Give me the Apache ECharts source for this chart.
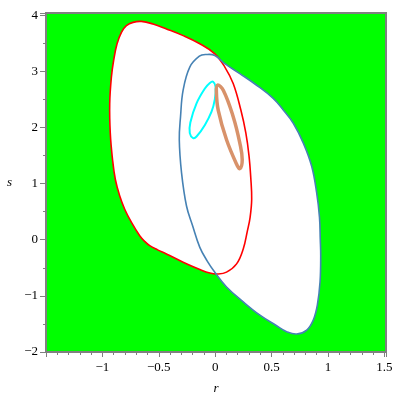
<!DOCTYPE html>
<html>
<head>
<meta charset="utf-8">
<script src="https://cdn.jsdelivr.net/npm/echarts@6/dist/echarts.min.js"></script>
<style>html,body{margin:0;padding:0;background:#fff}#c{width:400px;height:400px}</style>
</head>
<body>
<div id="c"></div>
<script>
// Curves, as [r, s] points (closed loops)
const redCurve = [[-0.654,3.89],[-0.551,3.844],[-0.432,3.756],[-0.284,3.637],[-0.136,3.491],[-0.003,3.313],[0.086,3.077],[0.160,2.783],[0.228,2.311],[0.272,1.903],[0.300,1.50],[0.316,1.10],[0.324,0.72],[0.31,0.40],[0.285,0.15],[0.249,-0.164],[0.19,-0.43],[0.101,-0.577],[0.02,-0.61],[-0.047,-0.594],[-0.136,-0.530],[-0.284,-0.400],[-0.432,-0.253],[-0.51,-0.18],[-0.58,-0.106],[-0.625,-0.03],[-0.669,0.071],[-0.742,0.308],[-0.802,0.543],[-0.846,0.778],[-0.885,1.073],[-0.91,1.43],[-0.93,1.9],[-0.935,2.43],[-0.920,2.900],[-0.900,3.195],[-0.870,3.491],[-0.831,3.696],[-0.787,3.814],[-0.728,3.873]];
const blueCurve = [[-0.08,3.30],[-0.003,3.284],[0.086,3.137],[0.219,2.960],[0.368,2.753],[0.515,2.518],[0.604,2.311],[0.693,2.076],[0.782,1.722],[0.856,1.309],[0.900,0.838],[0.925,0.4],[0.932,0.012],[0.936,-0.283],[0.930,-0.753],[0.906,-1.167],[0.870,-1.432],[0.812,-1.609],[0.723,-1.680],[0.634,-1.638],[0.545,-1.532],[0.397,-1.344],[0.249,-1.107],[0.101,-0.842],[-0.003,-0.58],[-0.07,-0.38],[-0.136,-0.135],[-0.2,0.25],[-0.254,0.601],[-0.298,1.192],[-0.318,1.781],[-0.307,2.193],[-0.284,2.665],[-0.225,3.077],[-0.14,3.27]];
const cyanCurve = [[-0.018,2.816],[0.004,2.72],[-0.003,2.50],[-0.032,2.281],[-0.091,2.046],[-0.165,1.839],[-0.195,1.811],[-0.225,1.899],[-0.22,2.09],[-0.165,2.43],[-0.091,2.695],[-0.047,2.794]];
const orangeCurve = [[0.021,2.755],[0.072,2.665],[0.16,2.193],[0.219,1.722],[0.24,1.427],[0.219,1.268],[0.188,1.356],[0.101,1.781],[0.027,2.311],[0.011,2.63]];
const xTicks = [-1.5,-1,-0.5,0,0.5,1,1.5];
const yTicks = [-2,-1,0,1,2,3,4];

const chart = echarts.init(document.getElementById('c'), null, {renderer:'canvas'});
function loopSeries(pts, fill, stroke, width, z) {
  return {
    type: 'custom', silent: true, z: z, animation: false, clip: true,
    data: pts,
    renderItem: function (params, api) {
      if (params.dataIndex !== 0) return null;
      const points = pts.map(p => api.coord(p));
      return {
        type: 'polygon',
        shape: { points: points, smooth: 0.4 },
        style: { fill: fill, stroke: stroke, lineWidth: width }
      };
    }
  };
}
const labelStyle = { fontFamily: 'Liberation Serif', fontSize: 13, color: '#000' };
chart.setOption({
  animation: false,
  grid: { left: 46, right: 14, top: 13, bottom: 46, show: true, backgroundColor: '#00ff00', borderColor: '#808080', borderWidth: 2 },
  xAxis: {
    type: 'value', min: -1.5, max: 1.515, interval: 0.5,
    name: 'r', nameLocation: 'middle', nameGap: 30,
    nameTextStyle: { fontFamily: 'Liberation Serif', fontStyle: 'italic', fontSize: 13, color: '#000' },
    axisLine: { show: true, onZero: false, lineStyle: { color: '#808080', width: 2 } },
    axisTick: { show: true, length: 5, lineStyle: { color: '#808080', width: 1 } },
    minorTick: { show: true, splitNumber: 5, length: 3, lineStyle: { color: '#808080', width: 1 } },
    splitLine: { show: false },
    axisLabel: Object.assign({ margin: 9, showMinLabel: true, showMaxLabel: true,
      formatter: v => (xTicks.some(t => Math.abs(t - v) < 1e-9) && Math.abs(v + 1.5) > 1e-9) ? String(v).replace('-', '\u2212') : '' }, labelStyle)
  },
  yAxis: {
    type: 'value', min: -2, max: 4.04, interval: 1,
    name: 's', nameLocation: 'middle', nameGap: 34, nameRotate: 0,
    nameTextStyle: { fontFamily: 'Liberation Serif', fontStyle: 'italic', fontSize: 13, color: '#000' },
    axisLine: { show: true, onZero: false, lineStyle: { color: '#808080', width: 2 } },
    axisTick: { show: true, length: 6, lineStyle: { color: '#808080', width: 1 } },
    minorTick: { show: true, splitNumber: 2, length: 3, lineStyle: { color: '#808080', width: 1 } },
    splitLine: { show: false },
    axisLabel: Object.assign({ margin: 8,
      formatter: v => yTicks.some(t => Math.abs(t - v) < 1e-9) ? String(v).replace('-', '\u2212') : '' }, labelStyle)
  },
  series: [
    loopSeries(redCurve, '#ffffff', null, 0, 1),
    loopSeries(blueCurve, '#ffffff', null, 0, 1),
    loopSeries(redCurve, null, '#ff0000', 1.6, 2),
    loopSeries(blueCurve, null, '#4682b4', 1.6, 2),
    loopSeries(cyanCurve, null, '#00ffff', 2, 3),
    loopSeries(orangeCurve, null, '#d8926a', 3.5, 3)
  ]
});
</script>
</body>
</html>
